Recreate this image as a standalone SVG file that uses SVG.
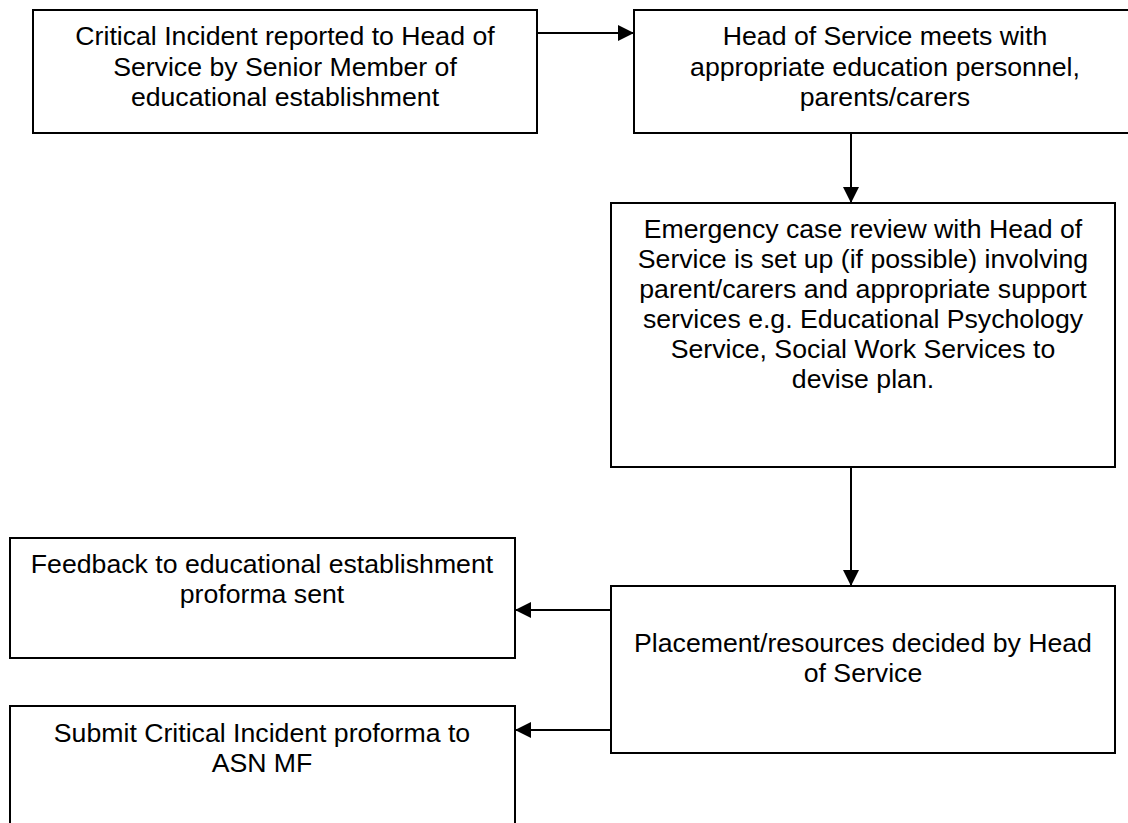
<svg xmlns="http://www.w3.org/2000/svg" width="1128" height="823" viewBox="0 0 1128 823">
  <style>
    .box { fill: #ffffff; stroke: #000000; stroke-width: 2; }
    .lbl { font-family: "Liberation Sans", Arial, sans-serif; font-size: 26.67px; fill: #000000; text-anchor: middle; }
    .conn { fill: none; stroke: #000000; stroke-width: 2; }
  </style>
  <defs>
    <marker id="arrow" markerUnits="userSpaceOnUse" markerWidth="17" markerHeight="17" refX="16" refY="8" orient="auto">
      <path d="M0,0 L16,8 L0,16 Z" fill="#000000"/>
    </marker>
  </defs>
  <rect width="1128" height="823" fill="#ffffff"/>

  <g id="node-reported">
    <rect class="box" x="33" y="10" width="504" height="123"/>
    <text class="lbl" x="285" y="45">Critical Incident reported to Head of</text>
    <text class="lbl" x="285" y="75.5">Service by Senior Member of</text>
    <text class="lbl" x="285" y="106">educational establishment</text>
  </g>

  <g id="node-meets">
    <rect class="box" x="634" y="10" width="504" height="123"/>
    <text class="lbl" x="885" y="45">Head of Service meets with</text>
    <text class="lbl" x="885" y="75.5">appropriate education personnel,</text>
    <text class="lbl" x="885" y="106">parents/carers</text>
  </g>

  <g id="node-review">
    <rect class="box" x="611" y="203" width="504" height="264"/>
    <text class="lbl" x="863" y="238">Emergency case review with Head of</text>
    <text class="lbl" x="863" y="268">Service is set up (if possible) involving</text>
    <text class="lbl" x="863" y="298">parent/carers and appropriate support</text>
    <text class="lbl" x="863" y="328">services e.g. Educational Psychology</text>
    <text class="lbl" x="863" y="358">Service, Social Work Services to</text>
    <text class="lbl" x="863" y="388">devise plan.</text>
  </g>

  <g id="node-placement">
    <rect class="box" x="611" y="586" width="504" height="167"/>
    <text class="lbl" x="863" y="652">Placement/resources decided by Head</text>
    <text class="lbl" x="863" y="682">of Service</text>
  </g>

  <g id="node-feedback">
    <rect class="box" x="10" y="538" width="505" height="120"/>
    <text class="lbl" x="262" y="573">Feedback to educational establishment</text>
    <text class="lbl" x="262" y="603">proforma sent</text>
  </g>

  <g id="node-submit">
    <rect class="box" x="10" y="706" width="505" height="140"/>
    <text class="lbl" x="262" y="742">Submit Critical Incident proforma to</text>
    <text class="lbl" x="262" y="772">ASN MF</text>
  </g>

  <g id="connectors">
    <line class="conn" x1="537" y1="33" x2="634" y2="33" marker-end="url(#arrow)"/>
    <line class="conn" x1="851" y1="133" x2="851" y2="203" marker-end="url(#arrow)"/>
    <line class="conn" x1="851" y1="467" x2="851" y2="586" marker-end="url(#arrow)"/>
    <line class="conn" x1="611" y1="610" x2="515" y2="610" marker-end="url(#arrow)"/>
    <line class="conn" x1="611" y1="730" x2="515" y2="730" marker-end="url(#arrow)"/>
  </g>
</svg>
